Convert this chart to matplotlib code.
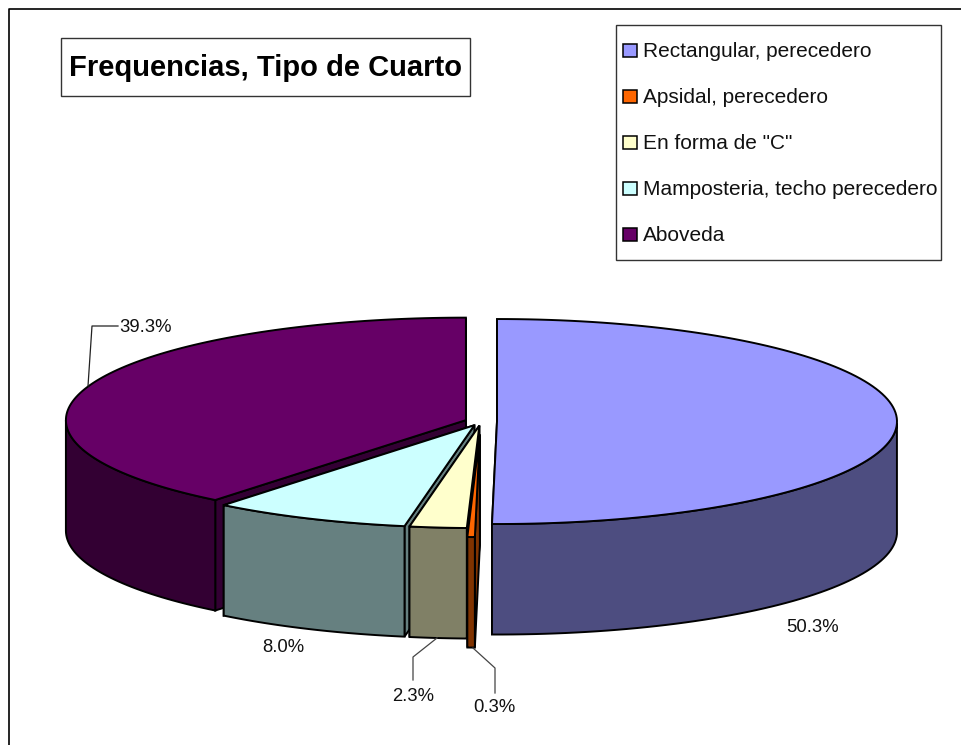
import numpy as np
import matplotlib
matplotlib.use("Agg")
import matplotlib.pyplot as plt
from matplotlib.patches import Polygon, Rectangle

plt.rcParams["font.family"] = ["Liberation Sans", "DejaVu Sans"]

# dados
categorias = ["Rectangular, perecedero", "Apsidal, perecedero", 'En forma de "C"',
              "Mamposteria, techo perecedero", "Aboveda"]
valores = [50.3, 0.3, 2.3, 8.0, 39.3]
rotulos = ["50.3%", "0.3%", "2.3%", "8.0%", "39.3%"]
cores_topo = ["#9999FF", "#FF6600", "#FFFFCC", "#CCFFFF", "#660066"]
cores_lado = ["#4D4D80", "#803300", "#808066", "#668080", "#330033"]
titulo = "Frequencias, Tipo de Cuarto"

# geometria da pizza (pixels)
cx, cy = 481, 421.5
rx, ry = 400, 102.5
altura = 110.5
explode = [16, 51, 16, 16, 16]

fig = plt.figure(figsize=(9.61, 7.45), dpi=100)
ax = fig.add_axes([0, 0, 1, 1])
ax.set_xlim(0, 961)
ax.set_ylim(745, 0)
ax.axis("off")

# moldura
ax.plot([8.5, 8.5, 961], [745, 8.5, 8.5], color="black", lw=1.2)

# angulos acumulados, sentido horario a partir do topo
fracoes = np.array(valores) / sum(valores) * 360
fim = np.cumsum(fracoes)
inicio = fim - fracoes


def ponto(c, a):
    r = np.radians(a)
    return np.column_stack([c[0] + rx * np.sin(r), c[1] - ry * np.cos(r)])


def desenha(i):
    meio = np.radians((inicio[i] + fim[i]) / 2)
    c = (cx + explode[i] * np.sin(meio),
         cy - explode[i] * np.cos(meio) * ry / rx)
    ang = np.linspace(inicio[i], fim[i], 120)
    arco = ponto(c, ang)
    baixo = np.array([0, altura])

    # faces radiais (a escondida primeiro)
    for a in (fim[i], inicio[i]):
        p = ponto(c, np.array([a]))[0]
        ax.add_patch(Polygon([c, p, p + baixo, np.array(c) + baixo],
                             fc=cores_lado[i], ec="black", lw=1.4))
    # parede externa, so a metade da frente
    frente = ang[(ang >= 90) & (ang <= 270)]
    if len(frente) > 1:
        a_f = ponto(c, frente)
        ax.add_patch(Polygon(np.vstack([a_f, (a_f + baixo)[::-1]]),
                             fc=cores_lado[i], ec="black", lw=1.4))
    # topo
    ax.add_patch(Polygon(np.vstack([c, arco]), fc=cores_topo[i], ec="black", lw=1.4))


for i in [4, 3, 2, 1, 0]:
    desenha(i)

# rotulos e linhas guia
cor_txt = "#111111"
fs = 13.3
ax.text(813, 632, rotulos[0], ha="center", va="baseline", fontsize=fs, color=cor_txt)
ax.text(283, 652, rotulos[3], ha="center", va="baseline", fontsize=fs, color=cor_txt)
ax.text(413, 701, rotulos[2], ha="center", va="baseline", fontsize=fs, color=cor_txt)
ax.text(494.5, 712, rotulos[1], ha="center", va="baseline", fontsize=fs, color=cor_txt)
ax.text(119, 332, rotulos[4], ha="left", va="baseline", fontsize=fs, color=cor_txt)
ax.plot([118, 92, 88], [326, 326, 386], color="#222222", lw=0.9)
ax.plot([437, 413, 413], [638, 657, 680], color="#444444", lw=0.9)
ax.plot([473, 495, 495], [648, 668, 693], color="#444444", lw=0.9)

# titulo
ax.add_patch(Rectangle((61, 38), 409, 58, fc="white", ec="#333333", lw=1))
ax.text(265.5, 76, titulo, ha="center", va="baseline", fontsize=21,
        fontweight="bold", color="black")

# legenda
ax.add_patch(Rectangle((616, 25), 325, 235, fc="white", ec="#333333", lw=1))
for i, nome in enumerate(categorias):
    y = 50 + 46 * i
    ax.add_patch(Rectangle((623, y - 6.5), 13.5, 13.5, fc=cores_topo[i], ec="black", lw=1.1))
    ax.text(643, y + 7, nome, ha="left", va="baseline", fontsize=15, color=cor_txt)

fig.savefig("out.png", dpi=100)
